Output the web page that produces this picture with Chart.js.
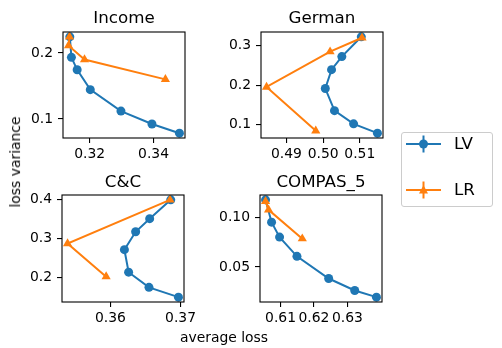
<!DOCTYPE html>
<html><head><meta charset="utf-8">
<script src="https://cdn.jsdelivr.net/npm/chart.js@4.4.0/dist/chart.umd.min.js"></script>
<style>
html,body{margin:0;padding:0;background:#fff;}
#fig{position:relative;width:502px;height:348px;overflow:hidden;font-family:"DejaVu Sans";color:#000;background:#fff;}
canvas{position:absolute;left:0;top:0;}
.t{position:absolute;white-space:nowrap;}
.title{font-size:16.7px;line-height:16.7px;transform:translateX(-50%);}
.lab{font-size:13.9px;line-height:13.9px;}
.leg{font-size:16.7px;line-height:16.7px;}
#legbox{position:absolute;left:400.5px;top:131.5px;width:90px;height:73.5px;border:1px solid #cccccc;border-radius:3px;background:#fff;}
svg{position:absolute;left:0;top:0;}
</style></head>
<body><div id="fig">
<canvas id="c0" width="502" height="348"></canvas>
<canvas id="c1" width="502" height="348"></canvas>
<canvas id="c2" width="502" height="348"></canvas>
<canvas id="c3" width="502" height="348"></canvas>
<div id="titles"></div>
<div class="t lab" style="left:15.9px;top:162px;transform:translate(-50%,-50%) rotate(-90deg);">loss variance</div>
<div class="t lab" style="left:224px;top:330.7px;transform:translateX(-50%);">average loss</div>
<div id="legbox"></div>
<svg width="502" height="348" id="legsvg"></svg>
<div class="t leg" style="left:454px;top:135.2px;">LV</div>
<div class="t leg" style="left:454px;top:181.2px;">LR</div>
</div>
<script>
const W = 502, H = 348;
const titles = ["Income", "German", "C&C", "COMPAS_5"];

// Income
const incomeLvLoss = [0.3138, 0.3143, 0.3161, 0.3202, 0.3298, 0.3395, 0.3481];
const incomeLvVar  = [0.2244, 0.1934, 0.1745, 0.1445, 0.1120, 0.0925, 0.0786];
const incomeLrLoss = [0.3137, 0.3134, 0.3184, 0.3437];
const incomeLrVar  = [0.2244, 0.2110, 0.1900, 0.1600];
const incomeXTicks = [0.32, 0.34], incomeXLabels = ["0.32", "0.34"];
const incomeYTicks = [0.1, 0.2], incomeYLabels = ["0.1", "0.2"];

// German
const germanLvLoss = [0.5104, 0.5051, 0.5023, 0.5006, 0.5031, 0.5083, 0.5148];
const germanLvVar  = [0.3224, 0.2724, 0.2393, 0.1916, 0.1355, 0.1023, 0.0786];
const germanLrLoss = [0.5106, 0.5019, 0.4846, 0.4980];
const germanLrVar  = [0.3200, 0.2848, 0.1955, 0.0847];
const germanXTicks = [0.49, 0.50, 0.51], germanXLabels = ["0.49", "0.50", "0.51"];
const germanYTicks = [0.1, 0.2, 0.3], germanYLabels = ["0.1", "0.2", "0.3"];

// C&C
const ccLvLoss = [0.3686, 0.3656, 0.3636, 0.3620, 0.3626, 0.3655, 0.3697];
const ccLvVar  = [0.3982, 0.3501, 0.3165, 0.2708, 0.2132, 0.1744, 0.1494];
const ccLrLoss = [0.3685, 0.3539, 0.3594];
const ccLrVar  = [0.3980, 0.2863, 0.2018];
const ccXTicks = [0.36, 0.37], ccXLabels = ["0.36", "0.37"];
const ccYTicks = [0.2, 0.3, 0.4], ccYLabels = ["0.2", "0.3", "0.4"];

// COMPAS_5
const compasLvLoss = [0.6055, 0.6073, 0.6097, 0.6149, 0.6244, 0.6322, 0.6387];
const compasLvVar  = [0.1174, 0.0950, 0.0800, 0.0607, 0.0384, 0.0264, 0.0197];
const compasLrLoss = [0.6055, 0.6064, 0.6165];
const compasLrVar  = [0.1160, 0.1074, 0.0784];
const compasXTicks = [0.61, 0.62, 0.63], compasXLabels = ["0.61", "0.62", "0.63"];
const compasYTicks = [0.05, 0.10], compasYLabels = ["0.05", "0.10"];

const BLUE = '#1f77b4', ORANGE = '#ff7f0e';

// layout (axes boxes in px)
const boxes = [
  {L: 63, R: 185, T: 32, B: 138},
  {L: 261, R: 383, T: 32, B: 138},
  {L: 62, R: 184, T: 195, B: 302},
  {L: 260, R: 382, T: 195, B: 302}
];
const titleBaselines = [23.3, 23.3, 187.2, 187.2];

const panels = [
  {lvX: incomeLvLoss, lvY: incomeLvVar, lrX: incomeLrLoss, lrY: incomeLrVar, xT: incomeXTicks, xL: incomeXLabels, yT: incomeYTicks, yL: incomeYLabels},
  {lvX: germanLvLoss, lvY: germanLvVar, lrX: germanLrLoss, lrY: germanLrVar, xT: germanXTicks, xL: germanXLabels, yT: germanYTicks, yL: germanYLabels},
  {lvX: ccLvLoss, lvY: ccLvVar, lrX: ccLrLoss, lrY: ccLrVar, xT: ccXTicks, xL: ccXLabels, yT: ccYTicks, yL: ccYLabels},
  {lvX: compasLvLoss, lvY: compasLvVar, lrX: compasLrLoss, lrY: compasLrVar, xT: compasXTicks, xL: compasXLabels, yT: compasYTicks, yL: compasYLabels}
];

function lim(arrs) {
  const all = [].concat(...arrs);
  const mn = Math.min(...all), mx = Math.max(...all), r = mx - mn;
  return [mn - 0.05 * r, mx + 0.05 * r];
}
function pts(xs, ys) { return xs.map((x, i) => ({x: x, y: ys[i]})); }

const boxPlugin = {
  id: 'axbox',
  afterDraw(chart) {
    const a = chart.chartArea, c = chart.ctx;
    c.save();
    c.strokeStyle = '#000';
    c.lineWidth = 1.1;
    c.strokeRect(a.left, a.top, a.right - a.left, a.bottom - a.top);
    c.restore();
  }
};

Chart.defaults.font.family = 'DejaVu Sans';
Chart.defaults.color = '#000';

panels.forEach((p, k) => {
  const box = boxes[k];
  const [x0, x1] = lim([p.lvX, p.lrX]);
  const [y0, y1] = lim([p.lvY, p.lrY]);
  const gridCfg = {display: true, drawOnChartArea: false, drawTicks: true, tickLength: 5, color: '#000', lineWidth: 1.1};
  new Chart(document.getElementById('c' + k), {
    type: 'scatter',
    data: {datasets: [
      {label: 'LV', data: pts(p.lvX, p.lvY), showLine: true, borderColor: BLUE, backgroundColor: BLUE,
       borderWidth: 2, pointRadius: 4.5, pointBorderWidth: 0, pointStyle: 'circle', order: 1},
      {label: 'LR', data: pts(p.lrX, p.lrY), showLine: true, borderColor: ORANGE, backgroundColor: ORANGE,
       borderWidth: 2, pointRadius: 5.3, pointBorderWidth: 0, pointStyle: 'triangle', order: 0}
    ]},
    options: {
      responsive: false, animation: false, devicePixelRatio: 1,
      layout: {padding: {left: 0, top: box.T, right: W - box.R, bottom: 0}},
      plugins: {legend: {display: false}, tooltip: {enabled: false}, title: {display: false}},
      scales: {
        x: {type: 'linear', min: x0, max: x1,
            afterFit(s) { s.height = H - box.B; },
            afterBuildTicks(s) { s.ticks = p.xT.map(v => ({value: v})); },
            ticks: {callback: (v, i) => p.xL[i], font: {size: 13.9}, color: '#000', padding: 3, maxRotation: 0, autoSkip: false},
            grid: gridCfg, border: {display: false}},
        y: {type: 'linear', min: y0, max: y1,
            afterFit(s) { s.width = box.L; },
            afterBuildTicks(s) { s.ticks = p.yT.map(v => ({value: v})); },
            ticks: {callback: (v, i) => p.yL[i], font: {size: 13.9}, color: '#000', padding: 5, autoSkip: false},
            grid: gridCfg, border: {display: false}}
      }
    },
    plugins: [boxPlugin]
  });
});

// titles
const tdiv = document.getElementById('titles');
titles.forEach((t, k) => {
  const d = document.createElement('div');
  d.className = 't title';
  d.textContent = t;
  d.style.left = ((boxes[k].L + boxes[k].R) / 2) + 'px';
  d.style.top = (titleBaselines[k] - 14.1) + 'px';
  tdiv.appendChild(d);
});

// legend glyphs
const svg = document.getElementById('legsvg');
const ns = 'http://www.w3.org/2000/svg';
function el(tag, attrs) { const e = document.createElementNS(ns, tag); for (const a in attrs) e.setAttribute(a, attrs[a]); svg.appendChild(e); return e; }
[[BLUE, 144, 'c'], [ORANGE, 190, 't']].forEach(([col, y, m]) => {
  el('line', {x1: 406, y1: y, x2: 441, y2: y, stroke: col, 'stroke-width': 2});
  el('line', {x1: 423.5, y1: y - 8.5, x2: 423.5, y2: y + 8.5, stroke: col, 'stroke-width': 2});
  if (m === 'c') el('circle', {cx: 423.5, cy: y, r: 4.5, fill: col});
  else el('polygon', {points: `423.5,${y - 4.8} ${419},${y + 3.6} ${428},${y + 3.6}`, fill: col});
});
</script>
</body></html>
